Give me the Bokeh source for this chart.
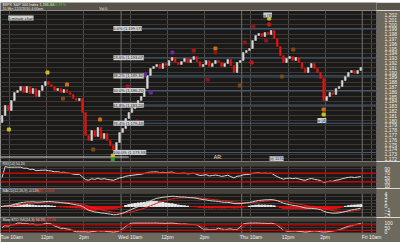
import numpy as np
import pandas as pd
from bokeh.plotting import figure
from bokeh.layouts import column
from bokeh.models import (ColumnDataSource, Range1d, FixedTicker, NumeralTickFormatter,
                          Span, LabelSet)
from bokeh.core.properties import value
from bokeh.embed import file_html
from bokeh.resources import INLINE

# ---------------- data ----------------
bar_minutes = 10
session_minutes = 390
day_names = ["Tue", "Wed", "Thu", "Fri"]
first_open = 1179.58
close_tue = [1181.04, 1183.13, 1182.08, 1184.17, 1185.83, 1186.25, 1187.08, 1185.83, 1187.08, 1185.63,
             1186.67, 1185.00, 1186.25, 1187.29, 1188.13, 1187.50, 1187.08, 1186.25, 1186.67, 1185.83,
             1186.46, 1185.83, 1185.42, 1184.58, 1184.17, 1184.58, 1181.67, 1176.88, 1175.83, 1177.92,
             1176.67, 1178.54, 1176.25, 1177.29, 1175.83, 1174.79, 1173.75, 1175.42, 1177.50]
close_wed = [1178.33, 1180.42, 1181.67, 1182.50, 1183.33, 1184.17, 1185.00, 1186.67, 1189.38, 1190.83,
             1191.25, 1191.67, 1190.83, 1191.88, 1191.46, 1192.50, 1193.13, 1192.08, 1191.67, 1192.29,
             1192.92, 1192.08, 1192.71, 1193.33, 1192.29, 1191.25, 1191.67, 1192.50, 1191.25, 1191.88,
             1192.50, 1192.08, 1191.25, 1191.88, 1192.71, 1191.46, 1190.00, 1192.08, 1192.50]
close_thu = [1194.17, 1194.58, 1195.00, 1196.67, 1197.71, 1198.13, 1197.50, 1198.33, 1197.92, 1198.75,
             1197.08, 1195.42, 1193.54, 1192.08, 1192.92, 1193.33, 1192.50, 1193.13, 1192.08, 1190.83,
             1190.00, 1191.04, 1191.88, 1190.83, 1190.00, 1188.75, 1184.17, 1185.00, 1185.83, 1185.42,
             1186.67, 1187.08, 1188.33, 1189.17, 1190.00, 1190.42, 1189.79, 1190.42, 1191.04]

fib_low = 1173.33
fib_high = 1199.17
fib_levels = [0.0, 23.6, 38.2, 50.0, 61.8, 76.4, 100.0]
support_level = 1172.40
price_ticks = list(range(1172, 1203))
time_tick_offsets = [30, 150, 270]
time_tick_labels = ["10am", "12pm", "2pm"]

# wave-count markers (minute, price, colour)
wave_x = [556, 625, 467, 411, 486, 442, 215, 202, 322, 300, 818, 790, 695, 695, 859, 812, 947, 910,
          670, 774, 1045, 27, 152, 869, 869, 1045, 363, 363]
wave_y = [1194.17, 1194.58, 1189.58, 1187.08, 1185.83, 1179.79, 1187.50, 1184.58, 1180.21, 1173.96,
          1199.58, 1196.25, 1195.00, 1194.17, 1196.67, 1192.08, 1194.79, 1189.17, 1188.54, 1187.29,
          1182.29, 1178.13, 1190.00, 1201.25, 1200.00, 1181.25, 1172.70, 1171.90]
wave_c = ["#6a2b9a", "#a01818", "#6a2b9a", "#a01818", "#6a2b9a", "#a01818", "#c8701a", "#7a4a1a",
          "#c8701a", "#7a4a1a", "#8a1818", "#8a1818", "#c8701a", "#8a1818", "#8a1818", "#c01818",
          "#7a4a1a", "#7a4a1a", "#8a1818", "#7a4a1a", "#c8701a", "#c8c020", "#c8c020", "#c8c020",
          "#c01818", "#c8c020", "#c8c020", "#30a030"]

note_x = [25, 850, 1025, 870]
note_y = [1201.35, 1201.98, 1180.00, 1172.05]
note_text = ["5 minute chart", "iii (3)", "iv (4)", "(ii) 1172"]

# ---------------- derived series ----------------
closes = close_tue + close_wed + close_thu
n = len(closes)
xs = [bar_minutes * i + bar_minutes / 2 for i in range(n)]
opens = [first_open] + closes[:-1]
tops = [max(o, c) for o, c in zip(opens, closes)]
bots = [min(o, c) for o, c in zip(opens, closes)]
cols = ["#d9d9d9" if c >= o else "#e8150f" for o, c in zip(opens, closes)]

c = pd.Series(closes)
d = c.diff()
ag = d.clip(lower=0).ewm(alpha=1 / 14, adjust=False).mean()
al = (-d.clip(upper=0)).ewm(alpha=1 / 14, adjust=False).mean()
rsi = (100 - 100 / (1 + ag / al)).fillna(50)
macd = c.ewm(span=12, adjust=False).mean() - c.ewm(span=26, adjust=False).mean()
sig = macd.ewm(span=9, adjust=False).mean()
hist = macd - sig
ll = c.rolling(14, min_periods=1).min()
hh = c.rolling(14, min_periods=1).max()
fk = (100 * (c - ll) / (hh - ll)).replace([np.inf, -np.inf], np.nan).fillna(50)
sk = fk.rolling(3, min_periods=1).mean()
sd = sk.rolling(3, min_periods=1).mean()

# ---------------- styling ----------------
W = 400
RIGHT = 15
PLOT_BG = "#1b1a18"
AXIS_BG = "#6d695d"
HEAD_BG = "#57534a"
STRIP_BG = "#44423d"
HGRID = "#393834"
VGRID = "#4e4c47"
DAYGRID = "#727069"
FIB = "#3d5877"
FONT = "Liberation Sans"
BAND = 5  # px height of the title band on each indicator panel

x_end = 1216
xr = Range1d(0, x_end)

hour_lines = [k * session_minutes + off for k in range(len(day_names)) for off in time_tick_offsets
              if k * session_minutes + off <= x_end]
day_lines = [k * session_minutes for k in range(1, len(day_names))]
tick_lab = {}
for k, day in enumerate(day_names):
    for off, lab in zip(time_tick_offsets, time_tick_labels):
        m = k * session_minutes + off
        if m <= x_end:
            tick_lab[float(m)] = (day + " " + lab) if off == time_tick_offsets[0] else lab


def make_fig(h, y0, y1, yticks, fmt=None, show_x=False, bottom=0, band=None, frame_h=None):
    """band: list of (x_px, text, colour) drawn in a title strip on top of the frame."""
    top = y1
    if band is not None:
        top = y1 + (y1 - y0) * BAND / (frame_h - BAND)
    p = figure(width=W, height=h, x_range=xr, y_range=Range1d(y0, top), output_backend="svg",
               toolbar_location=None, y_axis_location="right",
               x_axis_location=("below" if show_x else None),
               min_border_left=0, min_border_right=RIGHT, min_border_top=0,
               min_border_bottom=bottom)
    p.background_fill_color = PLOT_BG
    p.border_fill_color = AXIS_BG
    p.outline_line_color = None
    ax = p.yaxis[0]
    ax.ticker = FixedTicker(ticks=yticks)
    if fmt is not None:
        ax.formatter = fmt
    ax.major_label_text_font_size = "5px"
    ax.major_label_text_color = "#eeeeee"
    ax.major_label_text_font = FONT
    ax.axis_line_color = None
    ax.major_tick_line_color = None
    ax.minor_tick_line_color = None
    ax.major_label_standoff = 2
    p.ygrid.ticker = FixedTicker(ticks=yticks)
    p.ygrid.grid_line_color = HGRID
    p.ygrid.grid_line_width = 1
    p.xgrid.ticker = FixedTicker(ticks=hour_lines)
    p.xgrid.grid_line_color = VGRID
    p.xgrid.grid_line_width = 1
    if show_x:
        xa = p.xaxis[0]
        xa.ticker = FixedTicker(ticks=hour_lines)
        xa.major_label_overrides = tick_lab
        xa.major_label_text_font_size = "5px"
        xa.major_label_text_color = "#eeeeee"
        xa.major_label_text_font = FONT
        xa.axis_line_color = None
        xa.major_tick_line_color = None
        xa.minor_tick_line_color = None
        xa.major_label_standoff = 0
        xa.major_tick_out = 0
        xa.major_tick_in = 0
    k2 = len(day_lines)
    p.segment(x0=day_lines, x1=day_lines, y0=[y0] * k2, y1=[y1] * k2,
              line_color=DAYGRID, line_width=1)
    if band is not None:
        p.quad(left=[0], right=[x_end], bottom=[y1], top=[top], fill_color=STRIP_BG, line_color=None)
        units_per_px = x_end / (W - RIGHT)
        for (px, txt, col) in band:
            p.text(x=[px * units_per_px], y=[(y1 + top) / 2], text=[txt], text_color=col,
                   text_font_size="3.6px", text_font=value(FONT), text_baseline="middle",
                   text_align="left")
    return p


def strip(h, pieces, bg):
    s = figure(width=W, height=h, x_range=Range1d(0, W), y_range=Range1d(h, 0),
               output_backend="svg", toolbar_location=None, x_axis_location=None,
               y_axis_location=None, min_border=0, min_border_right=0)
    s.background_fill_color = bg
    s.border_fill_color = bg
    s.outline_line_color = None
    s.grid.visible = False
    for (tx, ty, txt, col, fs) in pieces:
        s.text(x=[tx], y=[ty], text=[txt], text_color=col, text_font_size=fs,
               text_font=value(FONT), text_baseline="middle", text_align="left")
    return s


# ---------------- header ----------------
last = closes[-1]
chg = closes[-1] - first_open
header = strip(10, [
    (2, 2.4, "$SPX S&P 500 Index  %s" % format(last, ",.2f"), "#f0f0f0", "3.8px"),
    (45, 2.4, "+%.2f  %.2f%%" % (chg, 100 * chg / first_open), "#33dd33", "3.8px"),
    (2, 6.6, "10 Min  12/2/2010 4:00pm", "#e0e0e0", "3.6px"),
    (105, 6.6, "Vol 0", "#e0e0e0", "3.6px"),
], HEAD_BG)

# ---------------- main price panel ----------------
main = make_fig(151, 1171.46, 1202.92, price_ticks, fmt=NumeralTickFormatter(format="0,0"))

fib_prices = [fib_high - lv / 100 * (fib_high - fib_low) for lv in fib_levels]
low_i = int(np.argmin(closes))
fib_x0 = xs[low_i]
main.segment(x0=[fib_x0] * len(fib_prices), x1=[x_end] * len(fib_prices), y0=fib_prices, y1=fib_prices,
             line_color=FIB, line_width=1.2)
main.segment(x0=[0], x1=[session_minutes + time_tick_offsets[0] - 5], y0=[support_level], y1=[support_level],
             line_color="#d8d8d8", line_width=1)

src = ColumnDataSource(dict(x=xs, top=tops, bottom=bots, color=cols))
main.vbar(x="x", width=5.5, top="top", bottom="bottom", fill_color="color", line_color="color",
          line_width=0.5, source=src)

main.scatter(x=wave_x, y=wave_y, marker="square", size=3, fill_color=wave_c, line_color=wave_c)

fib_src = ColumnDataSource(dict(x=[fib_x0] * len(fib_prices), y=fib_prices,
                                t=["%.1f%% (%s)" % (lv, format(pv, ",.2f")) for lv, pv in zip(fib_levels, fib_prices)]))
main.add_layout(LabelSet(x="x", y="y", text="t", source=fib_src, text_font_size=value("4px"),
                         text_font=value(FONT), text_color="#1a1a1a", text_baseline="middle",
                         text_align="left", background_fill_color="#cfcfcf"))
note_src = ColumnDataSource(dict(x=note_x, y=note_y, t=note_text))
main.add_layout(LabelSet(x="x", y="y", text="t", source=note_src, text_font_size=value("4px"),
                         text_font=value(FONT), text_color="#1a1a1a", text_baseline="middle",
                         text_align="left", background_fill_color="#cfcfcf"))
main.text(x=[690], y=[1172.3], text=["AR:"], text_color="#e8e8e8", text_font_size="5px",
          text_font=value(FONT), text_baseline="middle")

# ---------------- RSI ----------------
prsi = make_fig(27, 0, 100, [10, 30, 50, 70, 90], band=[(2, "RSI(14) %.2f" % rsi.iloc[-1], "#e6e6e6")],
                frame_h=27)
prsi.line(xs, rsi.tolist(), line_color="#d8d8d8", line_width=1)
for lv in (70, 30):
    prsi.add_layout(Span(location=lv, dimension="width", line_color="#e00000", line_width=1.2))

# ---------------- MACD ----------------
lo = float(min(macd.min(), sig.min(), hist.min()))
hi = float(max(macd.max(), sig.max(), hist.max()))
pad = 0.15 * (hi - lo)
mticks = list(range(int(np.floor(lo)), int(np.ceil(hi)) + 1))
pmacd = make_fig(29, lo - pad, hi + pad, mticks, frame_h=29, band=[
    (2, "MACD(12,26,9) %.3f," % macd.iloc[-1], "#e6e6e6"),
    (33, "%.3f, %.3f" % (sig.iloc[-1], hist.iloc[-1]), "#ff3030"),
])
hcol = ["#e8e8e8" if v >= 0 else "#e01010" for v in hist]
pmacd.vbar(x=xs, width=8, top=hist.tolist(), bottom=0, fill_color=hcol, line_color=hcol)
pmacd.line(xs, sig.tolist(), line_color="#e82020", line_width=1)
pmacd.line(xs, macd.tolist(), line_color="#d0d0d0", line_width=1)

# ---------------- Slow Stochastic ----------------
psto = make_fig(25, -15, 115, [0, 50, 100], show_x=True, bottom=6, frame_h=19, band=[
    (2, "Slow STO %%K(14,3) %.2f," % sk.iloc[-1], "#e6e6e6"),
    (36, "%%D(3) %.2f" % sd.iloc[-1], "#ff3030"),
])
for lv in (80, 20):
    psto.add_layout(Span(location=lv, dimension="width", line_color="#d00000", line_width=1.2))
psto.line(xs, sd.tolist(), line_color="#c02020", line_width=1)
psto.line(xs, sk.tolist(), line_color="#e0b4b4", line_width=1)

layout = column(header, main, prsi, pmacd, psto, spacing=0)
open("out.html", "w").write(file_html(layout, INLINE))
